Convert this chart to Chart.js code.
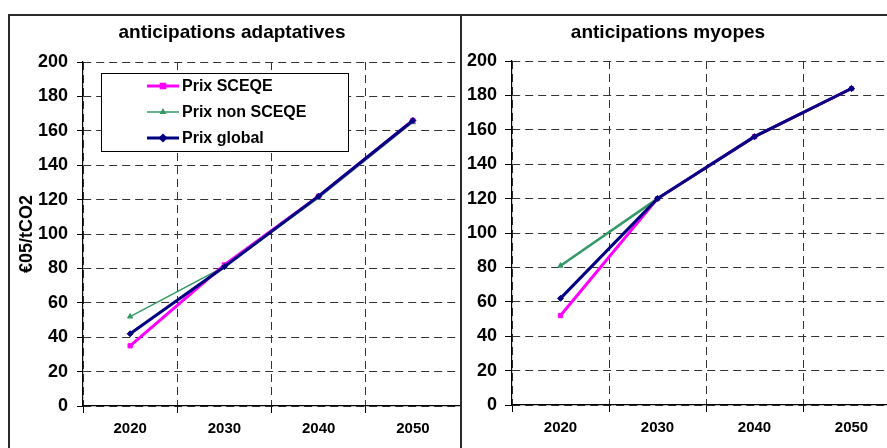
<!DOCTYPE html>
<html>
<head>
<meta charset="utf-8">
<script src="https://cdn.jsdelivr.net/npm/chart.js@4/dist/chart.umd.min.js"></script>
<style>
  html, body { margin: 0; padding: 0; background: #fff; overflow: hidden; width: 887px; height: 448px; }
  canvas { position: absolute; top: 0; }
  #gauche { left: 0; }
  #droite { left: 460px; }
</style>
</head>
<body>
<canvas id="gauche" width="465" height="448"></canvas>
<canvas id="droite" width="445" height="448"></canvas>
<script>
// donnees
var annees = ["2020", "2030", "2040", "2050"];
var adaptSceqe = [35, 82, 122, 166];
var adaptNonSceqe = [52, 81, 121, 165];
var adaptGlobal = [42, 81, 122, 166];
var myopeSceqe = [52, 120, 156, 184];
var myopeNonSceqe = [81, 120, 156, 184];
var myopeGlobal = [62, 120, 156, 184];
var yMin = 0, yMax = 200, yPas = 20;
var nomsSeries = ["Prix SCEQE", "Prix non SCEQE", "Prix global"];

var police = "'Liberation Sans', Arial, sans-serif";
var couleurs = ["#ff00ff", "#339966", "#000080"];
var marqueurs = ["rect", "triangle", "rectRot"];
var grille = "#333";

function series(sceqe, nonSceqe, global, epaisseurVert) {
    var vals = [sceqe, nonSceqe, global];
    var largeurs = [3, epaisseurVert, 3];
    var ordres = [1, 2, 0];
    return vals.map(function(v, i) {
        return {
            label: nomsSeries[i],
            data: v,
            borderColor: couleurs[i],
            backgroundColor: couleurs[i],
            borderWidth: largeurs[i],
            pointStyle: marqueurs[i],
            pointRadius: 3,
            pointBorderWidth: 1,
            pointBorderColor: couleurs[i],
            tension: 0,
            order: ordres[i]
        };
    });
}

function cadre(titre, titreX, bordGauche) {
    return {
        id: "cadre",
        beforeDraw: function(chart) {
            var ctx = chart.ctx;
            ctx.save();
            ctx.fillStyle = "#fff";
            ctx.fillRect(0, 0, chart.width, chart.height);
            ctx.strokeStyle = "#2a2a2a";
            ctx.lineWidth = 2;
            ctx.strokeRect(bordGauche, 15, 1000, 1000);
            ctx.fillStyle = "#000";
            ctx.font = "bold 19px " + police;
            ctx.textAlign = "center";
            ctx.textBaseline = "middle";
            ctx.fillText(titre, titreX, 33);
            ctx.restore();
        }
    };
}

var legende = {
    id: "legende",
    afterDraw: function(chart) {
        var ctx = chart.ctx;
        ctx.save();
        ctx.fillStyle = "#fff";
        ctx.fillRect(101, 73, 247, 78);
        ctx.strokeStyle = "#000";
        ctx.lineWidth = 1;
        ctx.strokeRect(101.5, 73.5, 247, 78);
        var lignes = [86, 112, 138];
        var largeurs = [3, 1.5, 3];
        for (var i = 0; i < 3; i++) {
            var y = lignes[i];
            ctx.strokeStyle = couleurs[i];
            ctx.lineWidth = largeurs[i];
            ctx.beginPath();
            ctx.moveTo(147, y);
            ctx.lineTo(179, y);
            ctx.stroke();
            ctx.fillStyle = couleurs[i];
            Chart.helpers.drawPoint(ctx, {
                pointStyle: marqueurs[i], radius: 2.5, rotation: 0, borderWidth: 1
            }, 163, y);
            ctx.fillStyle = "#000";
            ctx.font = "bold 16px " + police;
            ctx.textAlign = "left";
            ctx.textBaseline = "middle";
            ctx.fillText(nomsSeries[i], 182, y + 1);
        }
        ctx.restore();
    }
};

function options(largeurY, haut, droite, avecTitreY, longTick) {
    return {
        responsive: false,
        animation: false,
        layout: { padding: { top: haut, right: droite, left: 0, bottom: 0 } },
        plugins: { legend: { display: false }, tooltip: { enabled: false } },
        scales: {
            x: {
                offset: true,
                afterFit: function(s) { s.height = 448 - 406 + (haut === 61 ? 1 : 0); },
                grid: { offset: true, color: grille, tickColor: "#000", tickLength: 7, lineWidth: 1 },
                border: { color: "#000", width: 1.2, dash: [8, 5] },
                ticks: { color: "#000", padding: 7, font: { family: police, size: 15, weight: "bold" } }
            },
            y: {
                min: yMin,
                max: yMax,
                afterFit: function(s) { s.width = largeurY; },
                grid: { color: grille, tickColor: "#000", tickLength: longTick, lineWidth: 1 },
                border: { color: "#000", width: 1.2, dash: [8, 5] },
                ticks: { stepSize: yPas, color: "#000", padding: 15 - longTick, font: { family: police, size: 18, weight: "bold" } },
                title: {
                    display: avecTitreY,
                    text: "€05/tCO2",
                    color: "#000",
                    padding: { top: 16, bottom: 0 },
                    font: { family: police, size: 18, weight: "bold" }
                }
            }
        }
    };
}

new Chart(document.getElementById("gauche").getContext("2d"), {
    type: "line",
    data: { labels: annees, datasets: series(adaptSceqe, adaptNonSceqe, adaptGlobal, 1.5) },
    options: options(83, 62, 2, true, 6),
    plugins: [cadre("anticipations adaptatives", 232, 9), legende]
});

new Chart(document.getElementById("droite").getContext("2d"), {
    type: "line",
    data: { labels: annees, datasets: series(myopeSceqe, myopeNonSceqe, myopeGlobal, 2.5) },
    options: options(52, 61, 5, false, 7),
    plugins: [cadre("anticipations myopes", 208, 1)]
});
</script>
</body>
</html>
